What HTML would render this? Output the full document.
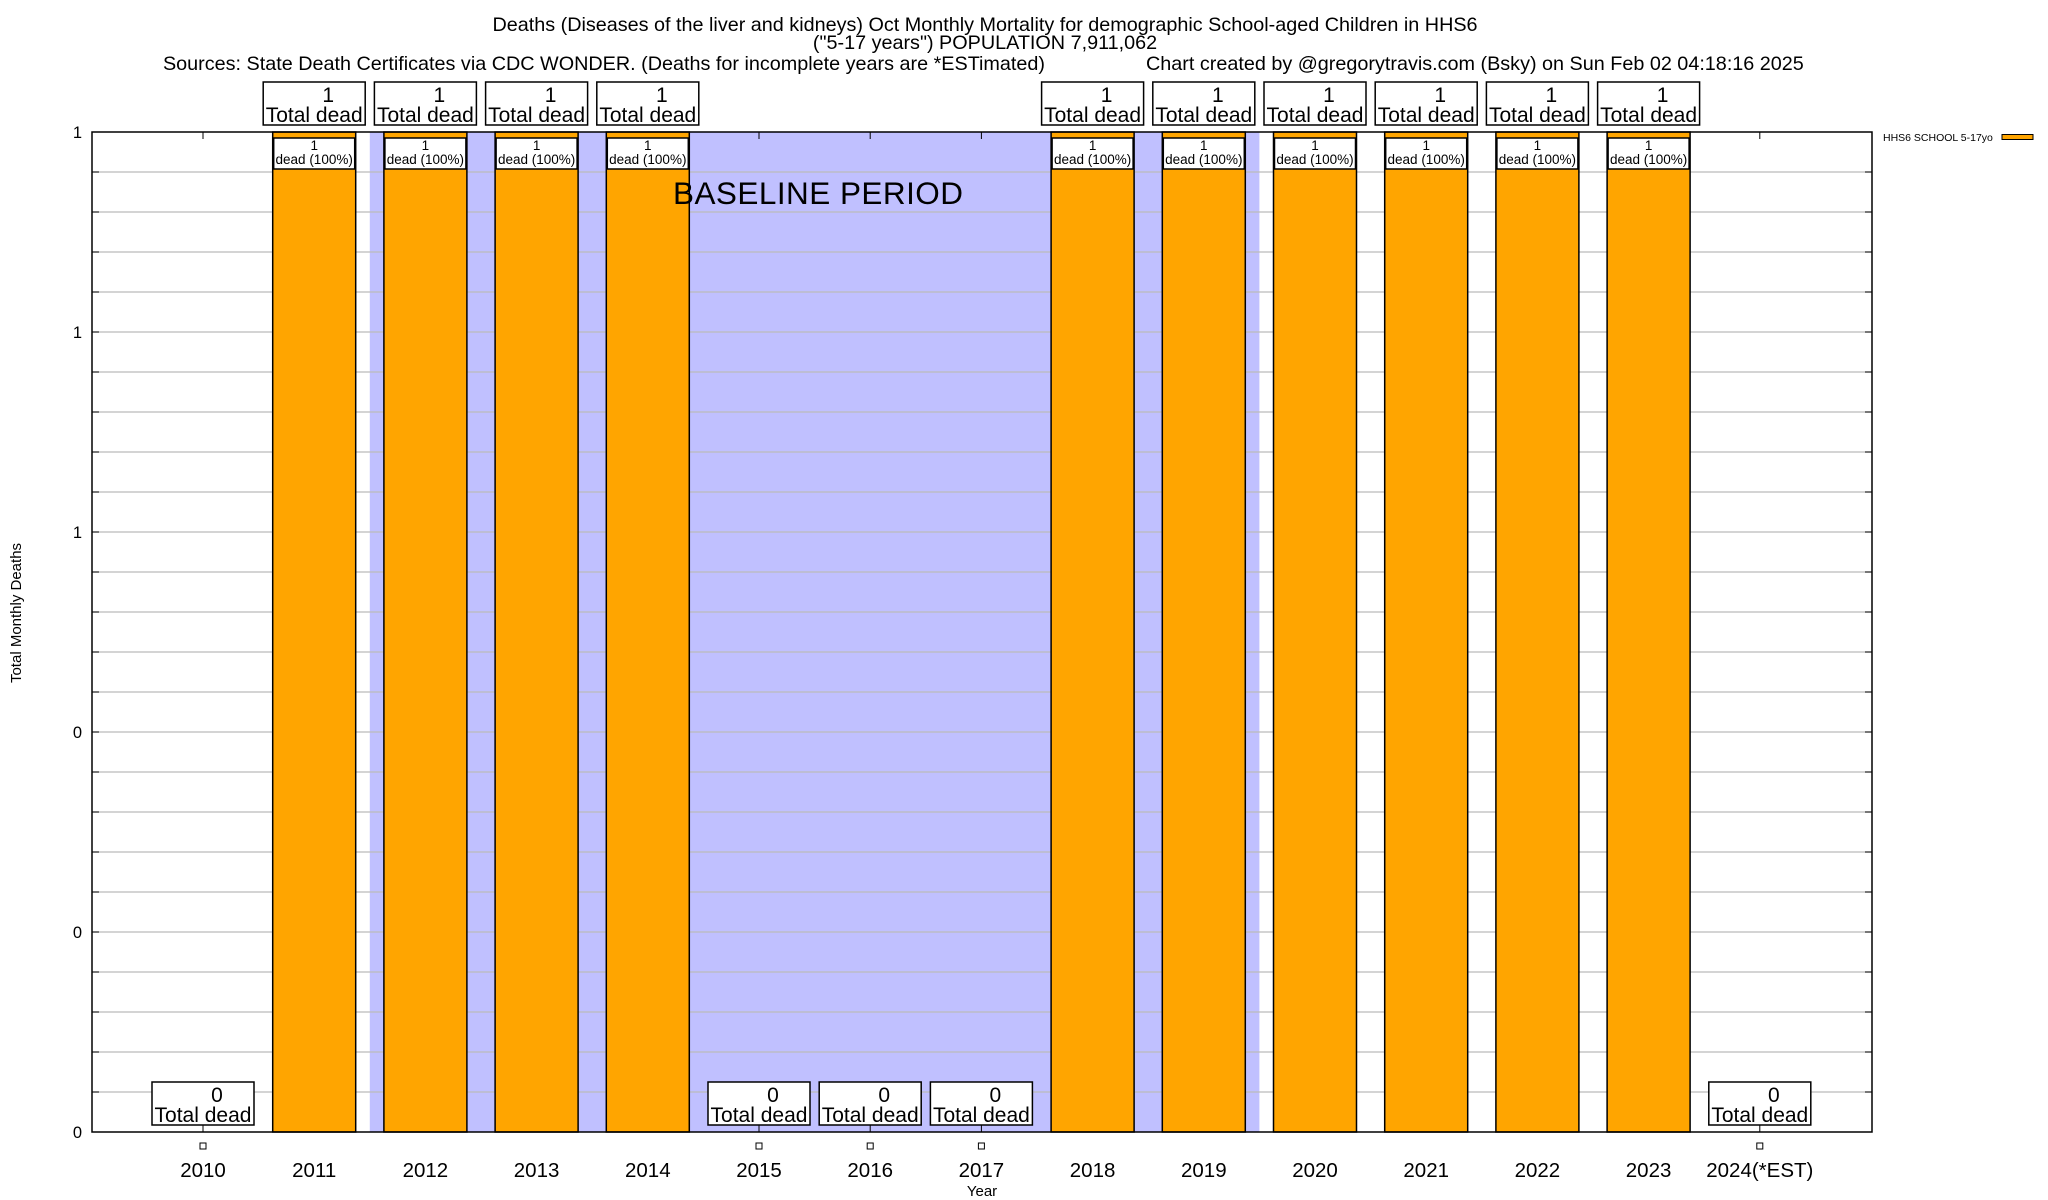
<!DOCTYPE html>
<html><head><meta charset="utf-8"><style>
html,body{margin:0;padding:0;background:#fff;}
svg{display:block;font-family:"Liberation Sans",Arial,sans-serif;}
</style></head><body>
<svg id="chart" width="2048" height="1200" viewBox="0 0 2048 1200" xmlns="http://www.w3.org/2000/svg">
<g font-size="19.8" text-anchor="middle">
<text x="985" y="31">Deaths (Diseases of the liver and kidneys) Oct Monthly Mortality for demographic School-aged Children in HHS6</text>
<text x="985" y="49">("5-17 years") POPULATION 7,911,062</text>
<text x="604" y="70">Sources: State Death Certificates via CDC WONDER. (Deaths for incomplete years are *ESTimated)</text>
<text x="1146" y="70" text-anchor="start">Chart created by @gregorytravis.com (Bsky) on Sun Feb 02 04:18:16 2025</text>
</g>
<g id="plot"></g>
</svg>
<script>
const categories=["2010","2011","2012","2013","2014","2015","2016","2017","2018","2019","2020","2021","2022","2023","2024(*EST)"];
const deaths=[0,1,1,1,1,0,0,0,1,1,1,1,1,1,0];
const yTickValues=[0,0.2,0.4,0.6,0.8,1];
const yTickLabels=["0","0","0","1","1","1"];
const baselineStart=1.5, baselineEnd=9.5;

const NS="http://www.w3.org/2000/svg";
const L=92,R=1872,T=132,B=1132;
const x0=203, step=111.2, barW=83;
const xs=i=>x0+i*step;
const ys=v=>B-(v/1)*(B-T);
const g=document.getElementById('plot');
function el(tag,attrs,parent,text){const e=document.createElementNS(NS,tag);for(const k in attrs)e.setAttribute(k,attrs[k]);if(text!==undefined)e.textContent=text;(parent||g).appendChild(e);return e;}

let band=el('rect',{x:xs(baselineStart),y:T,width:xs(baselineEnd)-xs(baselineStart),height:B-T,fill:'#c0c0ff'});



for(let k=1;k<25;k++){
  const v=k/25;
  let ln=el('line',{x1:L,x2:R,y1:ys(v),y2:ys(v),stroke:'#bbbbbb','stroke-width':1.3});
  
  
  let t1=el('line',{x1:L,x2:L+7,y1:ys(v),y2:ys(v),stroke:'#000','stroke-width':1});
  
  
  let t2=el('line',{x1:R-7,x2:R,y1:ys(v),y2:ys(v),stroke:'#000','stroke-width':1});
  
  
}

yTickValues.forEach((v,i)=>{
  let t=el('text',{x:82,y:ys(v)+6,'font-size':16.5,'text-anchor':'end'},g,yTickLabels[i]);
  
  
});

categories.forEach((c,i)=>{
  const cx=xs(i), v=deaths[i];
  let xt1=el('line',{x1:cx,x2:cx,y1:B,y2:B-7,stroke:'#000','stroke-width':1});
  
  
  let xt2=el('line',{x1:cx,x2:cx,y1:T,y2:T+7,stroke:'#000','stroke-width':1});
  
  
  if(v>0){
    let b=el('rect',{x:cx-barW/2,y:ys(v),width:barW,height:B-ys(v),fill:'#ffa500',stroke:'#000','stroke-width':1.5});
    
    
    let ib=el('rect',{x:cx-40.5,y:ys(v)+6,width:81,height:31,fill:'#fff',stroke:'#000','stroke-width':1.5});
    
    
    let it=el('text',{x:cx,y:ys(v)+18,'font-size':13.5,'text-anchor':'middle'},g,String(v));
    
    
    let it2=el('text',{x:cx,y:ys(v)+32,'font-size':13.5,'text-anchor':'middle'},g,'dead (100%)');
    
    
  }
  const by = v>0 ? 82 : B-50;
  let box=el('rect',{x:cx-51,y:by,width:102,height:43,fill:'#fff',stroke:'#000','stroke-width':1.5});
  
  
  let tn=el('text',{x:cx+14,y:by+20,'font-size':21,'text-anchor':'middle'},g,String(v));
  
  
  let tt=el('text',{x:cx,y:by+40,'font-size':21,'text-anchor':'middle'},g,'Total dead');
  
  
  if(v===0){
    let sq=el('rect',{x:cx-3,y:1143,width:6,height:6,fill:'#fff',stroke:'#000','stroke-width':1});
    
    
  }
  let xt=el('text',{x:cx,y:1177,'font-size':20.5,'text-anchor':'middle'},g,c);
  
  
});

let bl=el('text',{x:673,y:204,'font-size':31.5,'text-anchor':'start','textLength':290},g,'BASELINE PERIOD');



let fr=el('rect',{x:L,y:T,width:R-L,height:B-T,fill:'none',stroke:'#000','stroke-width':1.5});


let xtitle=el('text',{x:982,y:1196,'font-size':15,'text-anchor':'middle'},g,'Year');


let ytitle=el('text',{x:0,y:0,'font-size':15,'text-anchor':'middle',transform:'translate(21,613) rotate(-90)'},g,'Total Monthly Deaths');


let lt=el('text',{x:1883,y:141,'font-size':10.5},g,'HHS6 SCHOOL 5-17yo');


let ls=el('rect',{x:2002,y:134.5,width:31,height:5,fill:'#ffa500',stroke:'#000','stroke-width':1});


</script>
</body></html>
